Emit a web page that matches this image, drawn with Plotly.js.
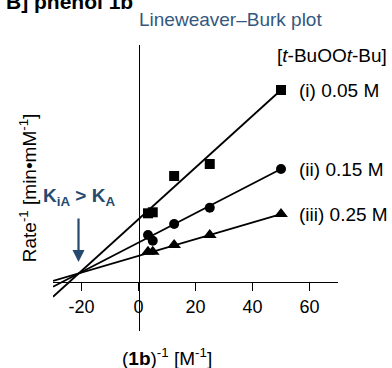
<!DOCTYPE html>
<html>
<head>
<meta charset="utf-8">
<script src="https://cdn.plot.ly/plotly-3.0.1.min.js"></script>
<style>html,body{margin:0;padding:0;background:#fff;}#chart{width:392px;height:368px;}</style>
</head>
<body>
<div id="chart"></div>
<script>
// ---- data ----
var inversePhenol = [50, 25, 12.5, 5, 3.33];          // (1b)^-1 [M^-1]
var rateInvI   = [9.575, 5.875, 5.275, 3.46, 3.41];    // (i) 0.05 M
var rateInvII  = [5.625, 3.69, 2.875, 2.04, 2.325];    // (ii) 0.15 M
var rateInvIII = [3.375, 2.325, 1.825, 1.49, 1.49];    // (iii) 0.25 M
var seriesLabels = ['(i) 0.05 M', '(ii) 0.15 M', '(iii) 0.25 M'];
var fitSlopes = [0.1293, 0.0736, 0.0418];
var fitIntercepts = [3.112, 1.947, 1.284];
var fitXRange = [-30, 50];
var xTickVals = [-20, 0, 20, 40, 60];
var xTickText = ['-20', '0', '20', '40', '60'];
var intersectX = -21.05;

// ---- layout geometry ----
var W = 392, H = 368;
var mL = 52.8, mR = 54.2, mT = 45, mB = 37;
var pw = W - mL - mR, ph = H - mT - mB;
function px(x) { return (x - mL) / pw; }
function py(y) { return (mT + ph - y) / ph; }

var FONT = 'Liberation Sans, Arial, Helvetica, sans-serif';
var NAVY = '#264a6e';

var seriesY = [rateInvI, rateInvII, rateInvIII];
var symbols = ['square', 'circle', 'triangle-up'];
var traces = [];
seriesY.forEach(function (ys, i) {
  var lx = fitXRange.slice();
  var ly = lx.map(function (x) { return fitSlopes[i] * x + fitIntercepts[i]; });
  traces.push({
    x: lx, y: ly, mode: 'lines', type: 'scatter',
    line: {color: '#000', width: 1.8}, hoverinfo: 'skip', showlegend: false
  });
  traces.push({
    x: inversePhenol, y: ys, mode: 'markers', type: 'scatter', name: seriesLabels[i],
    marker: {symbol: symbols[i], size: symbols[i] === 'triangle-up' ? 12 : 10, color: '#000'},
    showlegend: false
  });
});

var annotations = [
  {text: '<b>B] phenol 1b</b>', xref: 'paper', yref: 'paper', x: px(4), y: py(1), xanchor: 'left', yanchor: 'middle',
   showarrow: false, font: {family: FONT, size: 21, color: '#000'}},
  {text: 'Lineweaver–Burk plot', xref: 'paper', yref: 'paper', x: px(137), y: py(20), xanchor: 'left', yanchor: 'middle',
   showarrow: false, font: {family: FONT, size: 19, color: '#34587e'}},
  {text: '[<i>t</i>-BuOO<i>t</i>-Bu]', xref: 'paper', yref: 'paper', x: px(389), y: py(55), xanchor: 'right', yanchor: 'middle',
   showarrow: false, font: {family: FONT, size: 19, color: '#000'}},
  {text: 'Rate<sup>-1</sup> [min•mM<sup>-1</sup>]', xref: 'paper', yref: 'paper', x: px(28), y: py(188), xanchor: 'center', yanchor: 'middle',
   textangle: -90, showarrow: false, font: {family: FONT, size: 19, color: '#000'}},
  {text: '(<b>1b</b>)<sup>-1</sup> [M<sup>-1</sup>]', xref: 'paper', yref: 'paper', x: px(167), y: py(357), xanchor: 'center', yanchor: 'middle',
   showarrow: false, font: {family: FONT, size: 19, color: '#000'}},
  {text: '<b>K<sub>iA</sub> &gt; K<sub>A</sub></b>', xref: 'paper', yref: 'paper', x: px(79), y: py(197), xanchor: 'center', yanchor: 'middle',
   showarrow: false, font: {family: FONT, size: 19, color: NAVY}},
  {text: '', xref: 'x', yref: 'y', x: intersectX, y: (281.5 - 262) / 20, ax: 0, ay: -45,
   showarrow: true, arrowhead: 2, arrowsize: 1.1, arrowwidth: 2.2, arrowcolor: NAVY}
];
seriesLabels.forEach(function (lab, i) {
  annotations.push({text: lab, xref: 'x', yref: 'y', x: inversePhenol[0], y: seriesY[i][0], xshift: 5.5 * 2.85,
    xanchor: 'left', yanchor: 'middle', showarrow: false, font: {family: FONT, size: 19, color: '#000'}});
});

var yBottomPx = 331, xAxisPx = 281.5;
var layout = {
  width: W, height: H,
  margin: {l: mL, r: mR, t: mT, b: mB, pad: 0},
  paper_bgcolor: '#fff', plot_bgcolor: '#fff',
  font: {family: FONT, color: '#000'},
  showlegend: false,
  xaxis: {
    range: [-30, 70], tickvals: xTickVals, ticktext: xTickText,
    ticks: 'outside', ticklen: 8, tickwidth: 1.5, tickcolor: '#000',
    showline: true, linecolor: '#000', linewidth: 1.5,
    showgrid: false, zeroline: false,
    anchor: 'free', position: (yBottomPx - xAxisPx) / ph,
    tickfont: {family: FONT, size: 18, color: '#000'}
  },
  yaxis: {
    range: [(xAxisPx - yBottomPx) / 20, (xAxisPx - mT) / 20],
    showticklabels: false, ticks: '',
    showline: true, linecolor: '#000', linewidth: 1.5,
    showgrid: false, zeroline: false,
    anchor: 'free', position: 0.3
  },
  annotations: annotations
};

Plotly.newPlot('chart', traces, layout, {displayModeBar: false, staticPlot: true});
</script>
</body>
</html>
